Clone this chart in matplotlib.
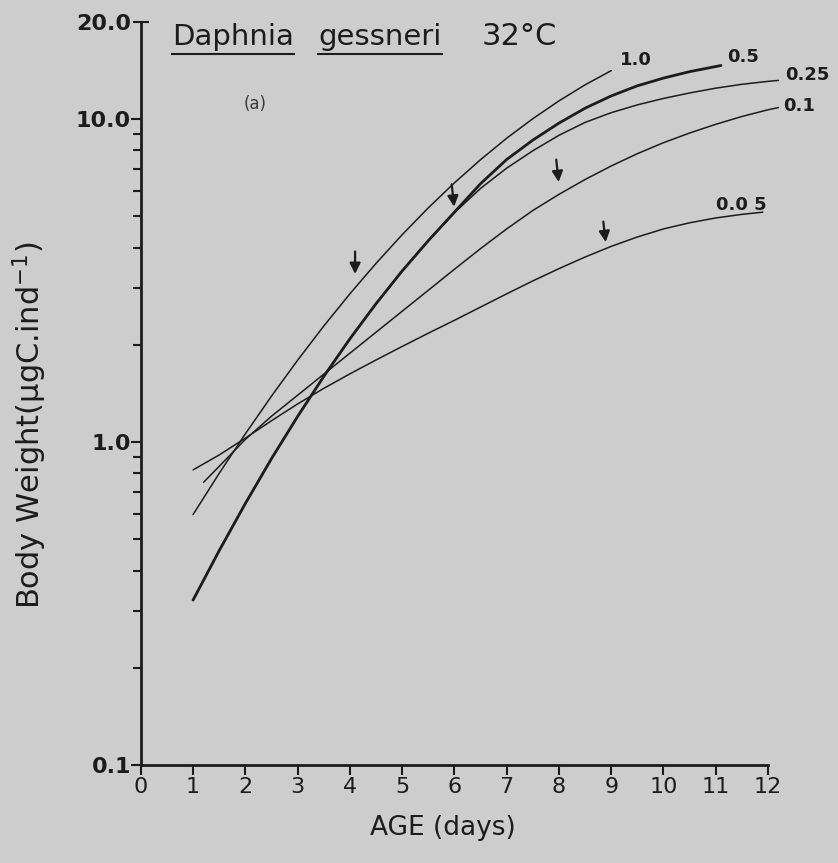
import numpy as np
import matplotlib
matplotlib.use('Agg')
import matplotlib.pyplot as plt
from matplotlib.lines import Line2D

# values (body weight, ugC per individual)
days_10 = [1, 1.5, 2, 2.5, 3, 3.5, 4, 4.5, 5, 5.5, 6, 6.5, 7, 7.5, 8, 8.5, 9]
w_10 = [0.596, 0.800, 1.060, 1.387, 1.792, 2.286, 2.877, 3.575, 4.385, 5.311, 6.349, 7.489,
        8.727, 10.03, 11.39, 12.77, 14.13]

days_05 = [1, 1.5, 2, 2.5, 3, 3.5, 4, 4.5, 5, 5.5, 6, 6.5, 7, 7.5, 8, 8.5, 9, 9.5, 10, 10.5, 11, 11.1]
w_05 = [0.324, 0.461, 0.645, 0.888, 1.20, 1.596, 2.087, 2.681, 3.386, 4.203, 5.15, 6.31,
        7.50, 8.61, 9.72, 10.81, 11.80, 12.68, 13.40, 14.03, 14.55, 14.66]

days_025 = [1, 1.5, 2, 2.5, 3, 3.5, 4, 4.5, 5, 5.5, 6, 6.5, 7, 7.5, 8, 8.5, 9, 9.5, 10, 10.5, 11, 11.5, 12, 12.2]
w_025 = [0.324, 0.461, 0.645, 0.888, 1.20, 1.596, 2.087, 2.681, 3.386, 4.203, 5.13, 6.10,
         7.05, 7.98, 8.91, 9.77, 10.47, 11.07, 11.59, 12.05, 12.47, 12.82, 13.09, 13.18]

days_01 = [1.2, 1.5, 2, 2.5, 3, 3.5, 4, 4.5, 5, 5.5, 6, 6.5, 7, 7.5, 8, 8.5, 9, 9.5, 10, 10.5, 11, 11.5, 12, 12.2]
w_01 = [0.750, 0.841, 1.019, 1.202, 1.396, 1.622, 1.884, 2.188, 2.541, 2.951, 3.428, 3.972,
        4.571, 5.212, 5.848, 6.501, 7.161, 7.816, 8.453, 9.057, 9.638, 10.19, 10.69, 10.86]

days_005 = [1, 1.5, 2, 2.5, 3, 3.5, 4, 4.5, 5, 5.5, 6, 6.5, 7, 7.5, 8, 8.5, 9, 9.5, 10, 10.5, 11, 11.5, 11.9]
w_005 = [0.820, 0.912, 1.028, 1.164, 1.312, 1.466, 1.626, 1.795, 1.977, 2.173, 2.382, 2.618,
         2.877, 3.155, 3.443, 3.741, 4.036, 4.315, 4.571, 4.775, 4.943, 5.070, 5.152]

curve_labels = ['1.0', '0.5', '0.25', '0.1', '0.0 5']

# arrows marking age at first reproduction
arrow_day = [4.1, 6.0, 8.0, 8.9]
arrow_w = [3.25, 5.25, 6.26, 4.08]

ink = '#1c1c1c'
bg = '#cdcdcd'

fig = plt.figure(figsize=(8.38, 8.63), dpi=100, facecolor=bg)
ax = fig.add_axes([0.168, 0.1136, 0.7485, 0.861])
ax.set_facecolor(bg)

series = [(days_10, w_10, 1.1), (days_05, w_05, 2.0), (days_025, w_025, 1.1),
          (days_01, w_01, 1.1), (days_005, w_005, 1.1)]
offsets = [(9, 11), (6, 8), (7, 5), (5, 2), (-47, 7)]
for (d, w, lw), lab, off in zip(series, curve_labels, offsets):
    ax.plot(d, w, color=ink, lw=lw, clip_on=False, solid_capstyle='round')
    ax.annotate(lab, xy=(d[-1], w[-1]), xytext=off, textcoords='offset pixels',
                ha='left', va='center', fontsize=13, fontweight='bold', color=ink,
                annotation_clip=False)

arrow_tails = [(0, 28), (-3, 28), (-3, 28), (-3, 26)]
for d, w, tail in zip(arrow_day, arrow_w, arrow_tails):
    ax.annotate('', xy=(d, w), xytext=tail, textcoords='offset pixels',
                arrowprops=dict(arrowstyle='-|>', color=ink, lw=1.6, mutation_scale=16))

ax.set_yscale('log')
ax.set_xlim(0, 12)
ax.set_ylim(0.1, 20)
ax.set_xticks(range(13))
ax.set_xticklabels([str(i) for i in range(13)], fontsize=16)
ax.set_yticks([0.1, 1, 10, 20])
ax.set_yticklabels(['0.1', '1.0', '10.0', '20.0'], fontsize=16, fontweight='bold')
minor = [m * 10.0 ** e for e in (-1, 0) for m in range(2, 10)]
ax.set_yticks(minor, minor=True)
ax.yaxis.set_minor_formatter(matplotlib.ticker.NullFormatter())
ax.tick_params(axis='both', which='major', length=7, width=1.5, color=ink, labelcolor=ink)
ax.tick_params(axis='y', which='major', pad=0)
ax.tick_params(axis='y', which='minor', length=6, width=1.5, color=ink)
ax.tick_params(axis='x', pad=2)
# the top of the axis is capped like a "T"
top_tick = ax.yaxis.get_major_ticks()[-1]
top_tick.tick1line.set_marker('_')
top_tick.tick1line.set_markersize(12)
for s in ['top', 'right']:
    ax.spines[s].set_visible(False)
for s in ['left', 'bottom']:
    ax.spines[s].set_linewidth(2.0)
    ax.spines[s].set_color(ink)

fig.text(443 / 838, 1 - 828 / 863, 'AGE (days)', fontsize=19, color=ink, ha='center', va='center')
fig.text(30 / 838, 1 - 425 / 863, 'Body Weight(μgC.ind$^{-1}$)', fontsize=22, color=ink,
         rotation=90, ha='center', va='center')

ax.text(0.182, 0.889, '(a)', transform=ax.transAxes, fontsize=12, color='#3a3a3a',
        ha='center', va='center')

# title: species name underlined word by word
t1 = fig.text(0.205, 0.948, 'Daphnia', fontsize=21, color=ink)
t2 = fig.text(0.380, 0.948, 'gessneri', fontsize=21, color=ink)
fig.text(0.575, 0.948, '32°C', fontsize=22, color=ink)
fig.canvas.draw()
r = fig.canvas.get_renderer()
for t in (t1, t2):
    bb = t.get_window_extent(r).transformed(fig.transFigure.inverted())
    fig.add_artist(Line2D([bb.x0, bb.x1], [bb.y0 - 0.004, bb.y0 - 0.004],
                          transform=fig.transFigure, color=ink, lw=1.5))

fig.savefig('out.png', dpi=100, facecolor=bg)
